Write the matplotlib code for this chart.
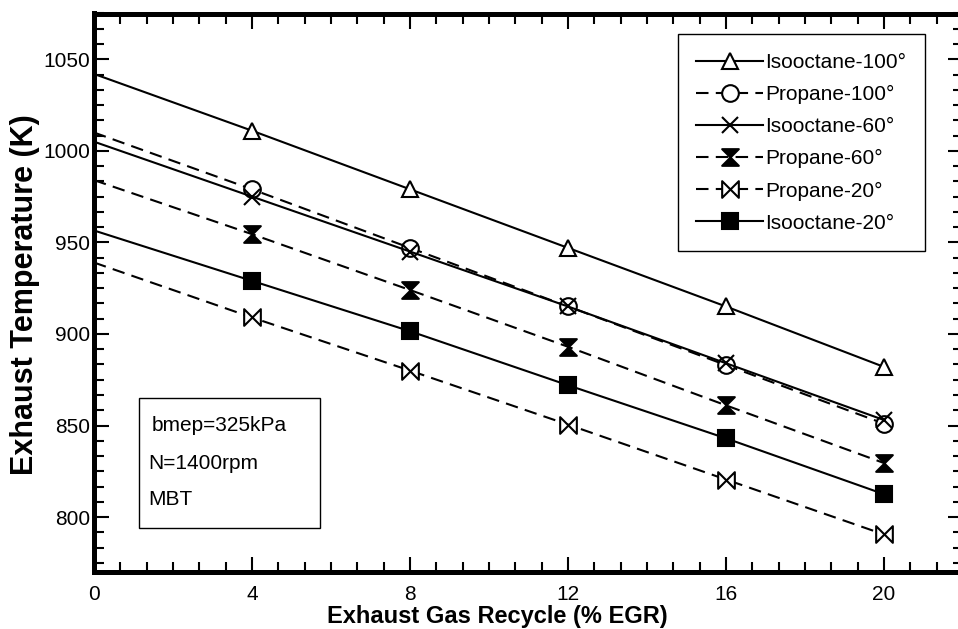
import matplotlib
matplotlib.use("Agg")
import matplotlib.pyplot as plt
from matplotlib.path import Path
from matplotlib.patches import Rectangle
from matplotlib.ticker import MultipleLocator

plt.rcParams['font.family'] = ['Liberation Sans', 'DejaVu Sans']

# ---- data ----
egr = [0, 4, 8, 12, 16, 20]
isooctane_100 = [1042, 1011, 979, 947, 915, 882]
propane_100 = [1010, 979, 947, 915, 883, 851]
isooctane_60 = [1005, 975, 945, 915, 884, 853]
propane_60 = [984, 954.5, 924, 893, 861, 829.5]
propane_20 = [939, 909, 880, 850.5, 820.5, 790.5]
isooctane_20 = [956.5, 929, 901.5, 872, 843, 812.5]

labels = ["Isooctane-100°", "Propane-100°", "Isooctane-60°",
          "Propane-60°", "Propane-20°", "Isooctane-20°"]
xticks = [0, 4, 8, 12, 16, 20]
yticks = [800, 850, 900, 950, 1000, 1050]
annot = ["bmep=325kPa", "N=1400rpm", "MBT"]

# ---- custom markers ----
codes = [Path.MOVETO, Path.LINETO, Path.LINETO, Path.LINETO, Path.CLOSEPOLY]
hourglass = Path([(-1, 1), (1, 1), (-1, -1), (1, -1), (-1, 1)], codes)
bowtie = Path([(-1, 1), (-1, -1), (1, 1), (1, -1), (-1, 1)], codes)

fig = plt.figure(figsize=(9.58, 6.29), dpi=100)
ax = fig.add_axes([94 / 958, 57 / 629, 869 / 958, 558.5 / 629])

solid = '-'
dashed = (0, (6, 3.5))
lw = 1.5
ms = 12
common = dict(color='black', lw=lw, markevery=slice(1, None), mec='black', mew=1.5)

series = [
    (isooctane_100, solid, dict(marker='^', mfc='white', ms=ms)),
    (propane_100, dashed, dict(marker='o', mfc='white', ms=ms)),
    (isooctane_60, solid, dict(marker='x', ms=ms)),
    (propane_60, dashed, dict(marker=hourglass, mfc='black', ms=ms)),
    (propane_20, dashed, dict(marker=bowtie, mfc='white', ms=ms)),
    (isooctane_20, solid, dict(marker='s', mfc='black', ms=ms - 0.5)),
]

handles = []
for (vals, ls, mk), lab in zip(series, labels):
    h, = ax.plot(egr, vals, linestyle=ls, label=lab, **common, **mk)
    handles.append(h)

ax.set_xlim(0, 22)
ax.set_ylim(770, 1075)
ax.set_xticks(xticks)
ax.set_yticks(yticks)
ax.xaxis.set_minor_locator(MultipleLocator(4 / 6))
ax.yaxis.set_minor_locator(MultipleLocator(50 / 6))
ax.tick_params(which='both', direction='in', top=True, right=True, width=1.5,
               labelsize=15, colors='black')
ax.tick_params(which='major', length=10.5)
ax.tick_params(which='minor', length=7)
ax.tick_params(axis='x', pad=9)
ax.tick_params(axis='y', pad=3)
for sp in ax.spines.values():
    sp.set_linewidth(3.6)

ax.set_xlabel("Exhaust Gas Recycle (% EGR)", fontsize=17, fontweight='bold')
ax.xaxis.set_label_coords(10.2 / 22, -0.0585)
ax.set_ylabel("Exhaust Temperature (K)", fontsize=22, fontweight='bold')
ax.yaxis.set_label_coords(-0.062, 0.497)

leg = ax.legend(handles=handles, loc='upper right', bbox_to_anchor=(0.956, 0.963),
                borderaxespad=0, fontsize=15, frameon=True, fancybox=False,
                edgecolor='black', framealpha=1, handlelength=3.2, handletextpad=0.1,
                labelspacing=0.63, borderpad=0.9, numpoints=1)
leg.get_frame().set_linewidth(1.0)

ax.add_patch(Rectangle((0.0518, 0.0788), 0.2082, 0.2328, transform=ax.transAxes,
                       fill=False, edgecolor='black', lw=1.0, zorder=5))
ax.text(0.0667, 0.263, annot[0], transform=ax.transAxes, fontsize=15, va='center', ha='left')
ax.text(0.0621, 0.195, annot[1], transform=ax.transAxes, fontsize=15, va='center', ha='left')
ax.text(0.0621, 0.129, annot[2], transform=ax.transAxes, fontsize=15, va='center', ha='left')

fig.savefig("out.png", dpi=100)
